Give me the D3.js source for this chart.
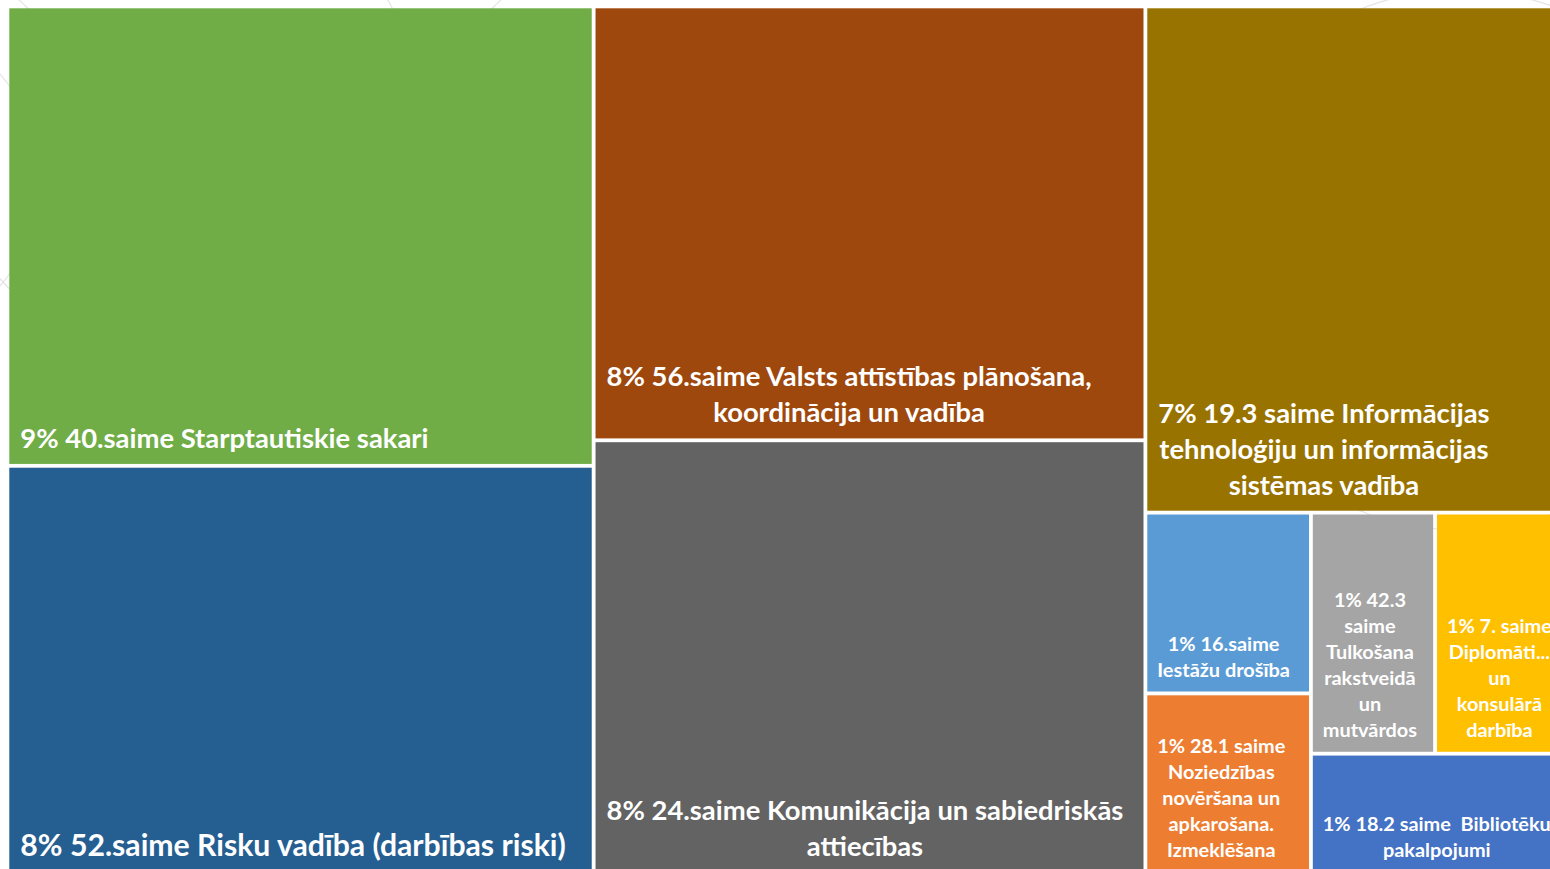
<!DOCTYPE html>
<html lang="lv">
<head>
<meta charset="UTF-8">
<title>Treemap</title>
<script src="https://d3js.org/d3.v7.min.js"></script>
<style>
  html, body { margin: 0; padding: 0; background: #fff; overflow: hidden; }
  svg { display: block; }
  .lbl { font-family: Lato, "Open Sans", sans-serif; font-weight: 700; fill: #fff; white-space: pre; }
</style>
</head>
<body>
<svg id="chart" width="1550" height="869"></svg>
<script>

// labels as shown on the tiles (\n = line break)
const labels = [
    '9% 40.saime Starptautiskie sakari',
    '8% 52.saime Risku vadība (darbības riski)',
    '8% 56.saime Valsts attīstības plānošana,\nkoordinācija un vadība',
    '8% 24.saime Komunikācija un sabiedriskās\nattiecības',
    '7% 19.3 saime Informācijas\ntehnoloģiju un informācijas\nsistēmas vadība',
    '1% 16.saime\nIestāžu drošība',
    '1% 28.1 saime\nNoziedzības\nnovēršana un\napkarošana.\nIzmeklēšana',
    '1% 42.3\nsaime\nTulkošana\nrakstveidā\nun\nmutvārdos',
    '1% 7. saime\nDiplomāti...\nun\nkonsulārā\ndarbība',
    '1% 18.2 saime  Bibliotēku\npakalpojumi'
];
const values = [9, 8, 8, 8, 7, 1, 1, 1, 1, 1];
// nesting of the tiles (column / block / row)
const paths = ['A/0', 'A/1', 'B/2', 'B/3', 'C/4', 'C/D/E/5', 'C/D/E/6', 'C/D/F/G/7', 'C/D/F/G/8', 'C/D/F/9'];
const colors = ['#70AD47', '#255E91', '#9E480E', '#636363', '#997300',
                '#5B9BD5', '#ED7D31', '#A5A5A5', '#FFC000', '#4472C4'];

const rows = labels.map((l, i) => ({ path: '/' + paths[i], idx: i, label: l, value: values[i], color: colors[i] }));

const root = d3.stratify().path(d => d.path)(rows)
    .sum(d => d ? d.value || 0 : 0);

// keep the tiles in data order
root.each(n => { n.order = d3.min(n.leaves(), l => l.data.idx); });
root.sort((a, b) => a.order - b.order);

d3.treemap()
    .tile(d3.treemapSliceDice)
    .size([1548, 864])
    .paddingInner(3.8)
    .round(false)(root);

const svg = d3.select('#chart');

// faint background arcs
const bg = svg.append('g').style('fill', 'none').style('stroke', '#e4e4e4').style('stroke-width', 1.2);
[[260, -240, 340], [180, 120, 240], [-120, 180, 160], [1460, 260, 270]].forEach(c => {
    bg.append('circle').attr('cx', c[0]).attr('cy', c[1]).attr('r', c[2]);
});

const g = svg.append('g').attr('transform', 'translate(9.3, 8.3)');

const leaf = g.selectAll('g.tile')
    .data(root.leaves())
    .enter()
    .append('g')
    .attr('class', 'tile');

leaf.append('rect')
    .attr('x', d => d.x0)
    .attr('y', d => d.y0)
    .attr('width', d => d.x1 - d.x0)
    .attr('height', d => d.y1 - d.y0)
    .style('fill', d => d.data.color);

// label size: small tiles get the small font, the tall single-line tile a larger one
function fontSize(d) {
    if (d.value < 5) return 19.9;
    if (d.data.idx === 1) return 30.2;
    return 27.4;
}

leaf.each((d, i, nodes) => {
    const big = d.value >= 5;
    const fs = fontSize(d);
    const lh = big ? 36 : 26;
    const lines = d.data.label.split('\n');
    const t = d3.select(nodes[i]).append('text')
        .attr('class', 'lbl')
        .style('font-size', fs + 'px')
        .attr('text-anchor', 'middle');
    const spans = lines.map((ln, k) => t.append('tspan')
        .text(ln)
        .attr('y', d.y1 - (big ? 16 : 15) - (lines.length - 1 - k) * lh));
    const w = d3.max(spans, s => s.node().getComputedTextLength());
    const cx = d.x0 + (big ? 11 : 10) + w / 2;
    spans.forEach(s => s.attr('x', cx));
});

</script>
</body>
</html>
